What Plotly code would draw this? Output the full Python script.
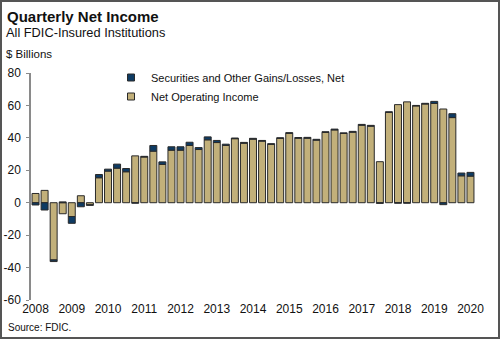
import plotly.graph_objects as go

# ---- data (2008 Q2 .. 2020 Q2), $ billions ----
years = ["2008", "2009", "2010", "2011", "2012", "2013", "2014",
         "2015", "2016", "2017", "2018", "2019", "2020"]

y_tick_values = [-60, -40, -20, 0, 20, 40, 60, 80]
y_tick_labels = ["-60", "-40", "-20", "0", "20", "40", "60", "80"]

net_operating_income = [5.7, 7.6, -35.3, -6.8, -8.5, 4.3, -1.3, 15.4, 19.5, 21.3,
                        19.1, 28.9, 28.2, 31.8, 23.6, 32.4, 32.4, 35.3, 32.8, 38.8,
                        37.1, 35.3, 39.5, 36.7, 39.2, 38.0, 36.0, 39.6, 42.8, 39.8,
                        39.8, 38.6, 43.3, 44.9, 42.7, 43.5, 47.8, 47.2, 25.3, 55.7,
                        60.5, 62.2, 59.7, 60.9, 61.2, 57.8, 52.5, 16.6, 16.4]

securities_gains = [-1.4, -4.5, -1.0, 0.5, -4.2, -2.5, -0.3, 2.0, 1.2, 2.5,
                    2.0, -0.3, 0.4, 3.5, 1.6, 2.1, 2.1, 2.0, 1.2, 1.8,
                    1.3, 0.8, 0.4, 0.5, 0.5, 0.4, 0.4, 0.5, 0.4, 0.4,
                    0.5, 0.5, 0.5, 0.5, 0.4, 0.5, 0.5, 0.5, -0.4, 0.4,
                    -0.3, -0.3, 0.3, 0.4, 1.3, -1.2, 2.4, 1.7, 2.3]

quarter_index = list(range(len(net_operating_income)))
year_tick_index = [i * 4 for i in range(len(years))]

TAN = "#C2B07A"
NAVY = "#0E3B63"
OUTLINE = "#2a2a2a"
AXIS = "#8a8a8a"
FONT = "Liberation Sans, Arial, sans-serif"

W, H = 500, 339
L, R, T, B = 31, 25, 73, 39
PW, PH = W - L - R, H - T - B
Y_MIN, Y_MAX = -60, 80


def px(x):
    return (x - L) / PW


def py(y):
    return (H - B - y) / PH


fig = go.Figure()
fig.add_bar(x=quarter_index, y=net_operating_income, name="Net Operating Income",
            marker=dict(color=TAN, line=dict(color=OUTLINE, width=1)),
            showlegend=False, hoverinfo="skip")
fig.add_bar(x=quarter_index, y=securities_gains,
            name="Securities and Other Gains/Losses, Net",
            marker=dict(color=NAVY, line=dict(color=OUTLINE, width=1)),
            showlegend=False, hoverinfo="skip")

# legend entries
fig.add_scatter(x=[None], y=[None], mode="markers",
                name="Securities and Other Gains/Losses, Net",
                marker=dict(symbol="square", size=7, color=NAVY,
                            line=dict(color=OUTLINE, width=1)))
fig.add_scatter(x=[None], y=[None], mode="markers",
                name="Net Operating Income",
                marker=dict(symbol="square", size=7, color=TAN,
                            line=dict(color=OUTLINE, width=1)))

zero_pos = (0 - Y_MIN) / (Y_MAX - Y_MIN)

fig.update_layout(
    width=W, height=H,
    margin=dict(l=L, r=R, t=T, b=B, pad=0, autoexpand=False),
    paper_bgcolor="white", plot_bgcolor="white",
    barmode="relative", bargap=0.23,
    font=dict(family=FONT, size=12, color="#111"),
    xaxis=dict(range=[-0.5, len(quarter_index) - 0.5], automargin=False,
               tickmode="array", tickvals=year_tick_index, ticktext=years,
               ticks="", showline=False, showgrid=False, zeroline=False,
               tickfont=dict(size=12, color="#111")),
    xaxis2=dict(overlaying="x", anchor="free", position=zero_pos, automargin=False,
                range=[-0.5, len(quarter_index) - 0.5],
                tickmode="linear", tick0=-0.5, dtick=1,
                ticks="outside", ticklen=4, tickcolor=AXIS, tickwidth=1,
                showticklabels=False, showline=True, linecolor=AXIS, linewidth=1,
                showgrid=False, zeroline=False),
    yaxis=dict(range=[Y_MIN, Y_MAX], tickmode="array",
               tickvals=y_tick_values, ticktext=y_tick_labels,
               automargin=False,
               ticks="outside", ticklen=3, tickcolor=AXIS,
               ticklabelstandoff=3,
               showline=True, linecolor=AXIS, linewidth=1.5,
               showgrid=False, zeroline=False,
               tickfont=dict(size=12, color="#111")),
    legend=dict(x=px(111), y=py(63), xanchor="left", yanchor="top",
                bgcolor="rgba(0,0,0,0)", font=dict(size=11, color="#111"),
                itemwidth=30, traceorder="normal"),
    showlegend=True,
)

fig.add_annotation(text="<b>Quarterly Net Income</b>", xref="paper", yref="paper",
                   x=px(5), y=py(16), xanchor="left", yanchor="middle",
                   showarrow=False, font=dict(size=15, color="#111"))
fig.add_annotation(text="All FDIC-Insured Institutions", xref="paper", yref="paper",
                   x=px(4), y=py(32.5), xanchor="left", yanchor="middle",
                   showarrow=False, font=dict(size=12.8, color="#111"))
fig.add_annotation(text="$ Billions", xref="paper", yref="paper",
                   x=px(4), y=py(53.5), xanchor="left", yanchor="middle",
                   showarrow=False, font=dict(size=11.5, color="#111"))
fig.add_annotation(text="Source: FDIC.", xref="paper", yref="paper",
                   x=px(6), y=py(327.5), xanchor="left", yanchor="middle",
                   showarrow=False, font=dict(size=10, color="#111"))

# outer frame
fig.add_shape(type="rect", xref="paper", yref="paper",
              x0=px(1), x1=px(499), y0=py(338), y1=py(1),
              line=dict(color="#555", width=2), fillcolor="rgba(0,0,0,0)",
              layer="above")

fig.write_html("out.html")
